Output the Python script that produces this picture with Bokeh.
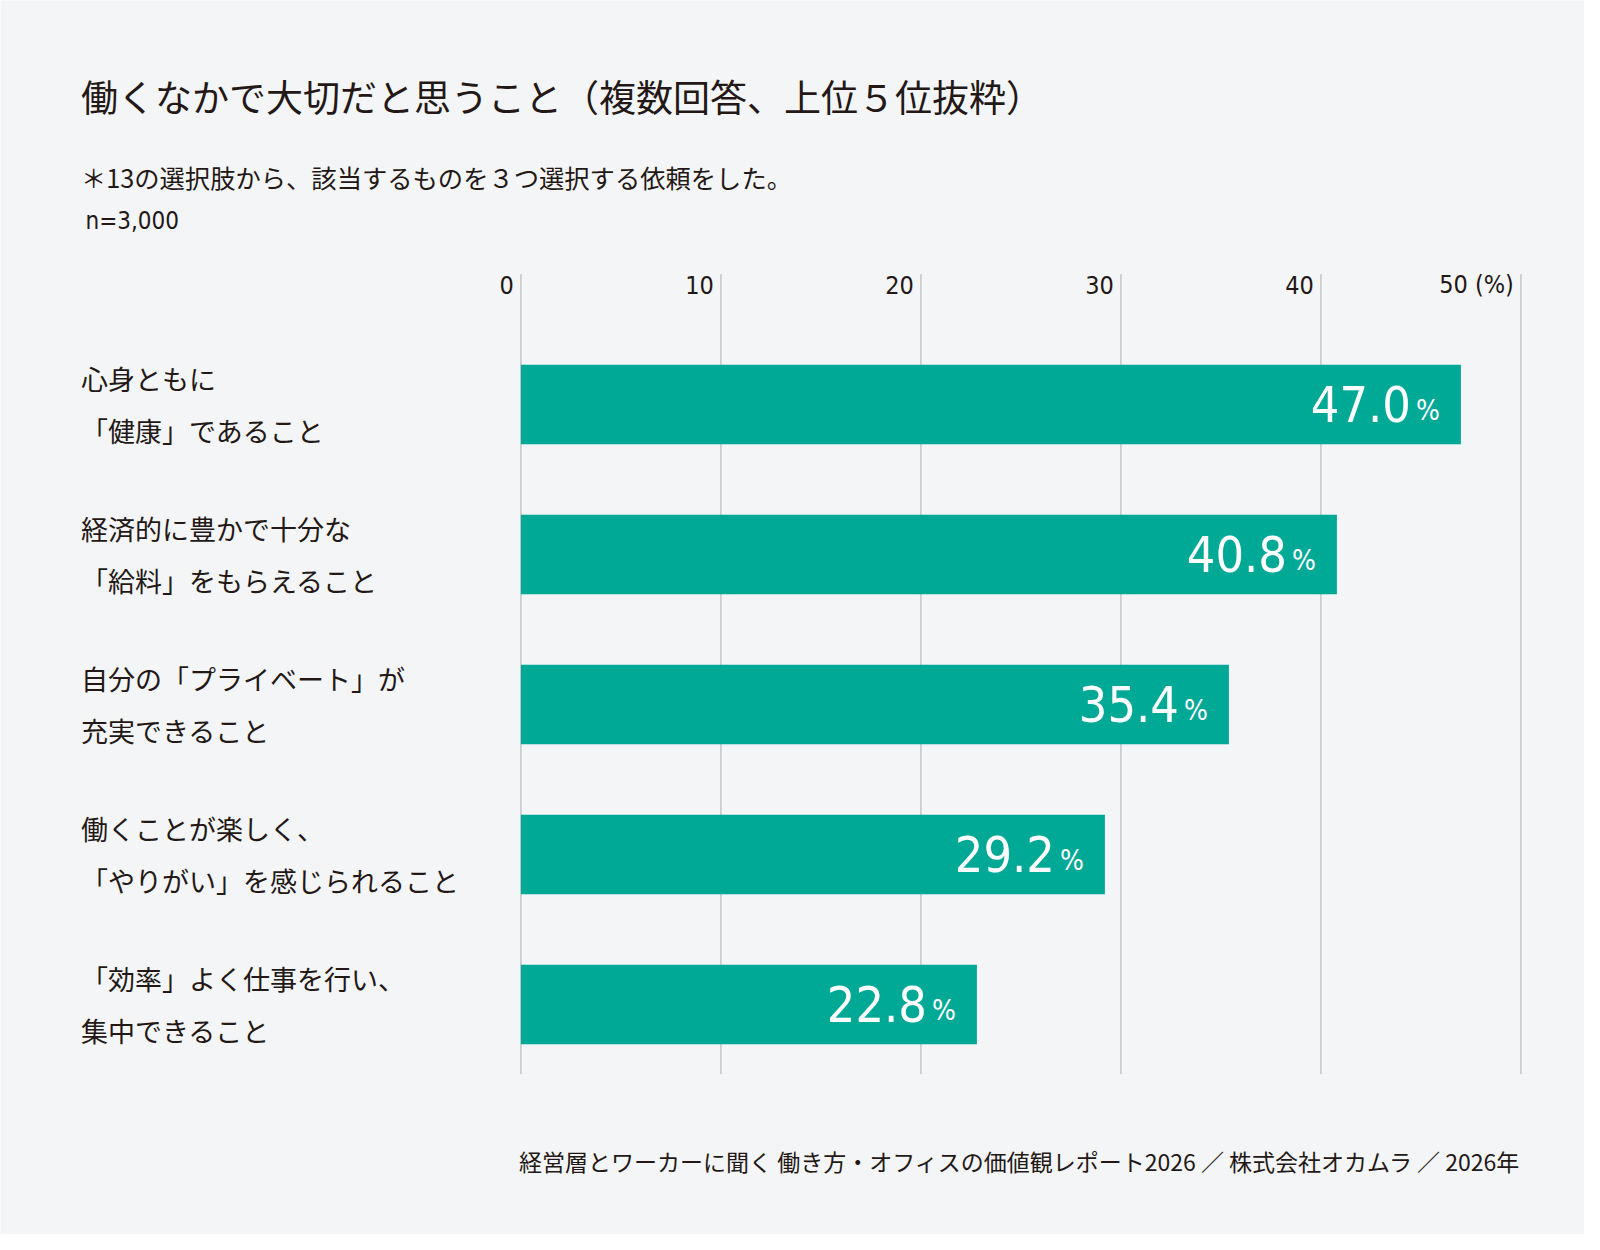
from bokeh.plotting import figure
from bokeh.models import Range1d
from bokeh.core.properties import value
from bokeh.embed import file_html
from bokeh.resources import INLINE

# data
categories = [
    "心身ともに\n「健康」であること",
    "経済的に豊かで十分な\n「給料」をもらえること",
    "自分の「プライベート」が\n充実できること",
    "働くことが楽しく、\n「やりがい」を感じられること",
    "「効率」よく仕事を行い、\n集中できること",
]
values = [47.0, 40.8, 35.4, 29.2, 22.8]
ticks = [0, 10, 20, 30, 40, 50]
tick_labels = ["0", "10", "20", "30", "40", "50 (%)"]

title_text = "働くなかで大切だと思うこと（複数回答、上位５位抜粋）"
note_text = "＊13の選択肢から、該当するものを３つ選択する依頼をした。"
n_text = "n=3,000"
source_text = "経営層とワーカーに聞く 働き方・オフィスの価値観レポート2026 ／ 株式会社オカムラ ／ 2026年"

JP = "Noto Sans CJK JP"
NUM = "'DejaVu Sans Condensed', 'DejaVu Sans', sans-serif"
INK = "#231815"
TEAL = "#00a896"
GRID = "#c9c9ca"
BG = "#f4f5f7"

# whole canvas is the frame: 1 % = 20 px, one row = 150 px
p = figure(width=1584, height=1234,
           x_range=Range1d(-26.02, 53.18), y_range=Range1d(5.533, -2.694),
           x_axis_location=None, y_axis_location=None,
           output_backend="svg", toolbar_location=None, min_border=0,
           background_fill_color=BG, border_fill_color=BG,
           outline_line_color=None)
p.xgrid.visible = False
p.ygrid.visible = False

rows = list(range(len(values)))
grid_top = -0.87
grid_bottom = rows[-1] + 0.463

# gridlines + tick labels on top
p.segment(x0=ticks, x1=ticks, y0=[grid_top] * len(ticks), y1=[grid_bottom] * len(ticks),
          line_color=GRID, line_width=1.6)
p.text(x=ticks, y=[grid_top] * len(ticks), text=tick_labels,
       x_offset=-7, y_offset=10.5, text_align="right", text_baseline="alphabetic",
       text_font=value(NUM), text_font_size="25px", text_color=INK)

# bars
p.hbar(y=rows, left=0, right=values, height=0.53, fill_color=TEAL, line_color=None)

# value labels inside the bars
p.text(x=values, y=rows, text=[f"{v:.1f}" for v in values],
       x_offset=-50, y_offset=-1, text_align="right", text_baseline="alphabetic",
       text_font=value(NUM), text_font_size="50px", text_color="white")
p.text(x=values, y=rows, text=["%"] * len(values),
       x_offset=-21, y_offset=5.5, text_align="right", text_baseline="alphabetic",
       text_font=value(NUM), text_font_size="28px", text_color="white")

# category labels, two lines each
first = [c.split("\n")[0] for c in categories]
second = [c.split("\n")[1] for c in categories]
p.text(x=[-22] * len(rows), y=rows, text=first, y_offset=-26,
       text_baseline="middle", text_font=value(JP), text_font_size="27px", text_color=INK)
p.text(x=[-22] * len(rows), y=rows, text=second, y_offset=26,
       text_baseline="middle", text_font=value(JP), text_font_size="27px", text_color=INK)

# titles and notes
p.text(x=[-22], y=[-2.06], text=[title_text], text_baseline="middle",
       text_font=value(JP), text_font_size="37px", text_color=INK)
p.text(x=[-22], y=[-1.52], text=[note_text], text_baseline="middle",
       text_font=value(JP), text_font_size="25.3px", text_color=INK)
p.text(x=[-21.77], y=[-1.225], text=[n_text], text_baseline="middle",
       text_font=value(NUM), text_font_size="24px", text_color=INK)
p.text(x=[50], y=[5.046], text=[source_text], text_align="right", text_baseline="middle",
       text_font=value(JP), text_font_size="23px", text_color=INK)

open("out.html", "w").write(file_html(p, INLINE))
